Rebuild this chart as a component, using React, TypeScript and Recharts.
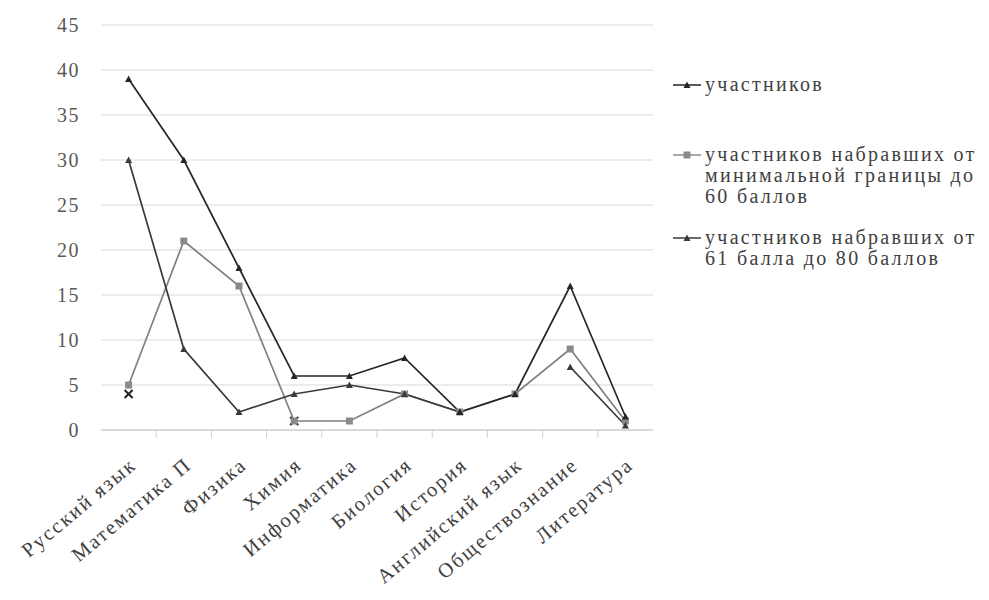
import { LineChart, Line, XAxis, YAxis, CartesianGrid } from 'recharts';

const subjects = [
  'Русский язык',
  'Математика П',
  'Физика',
  'Химия',
  'Информатика',
  'Биология',
  'История',
  'Английский язык',
  'Обществознание',
  'Литература',
];

// участников
const totalParticipants = [39, 30, 18, 6, 6, 8, 2, 4, 16, 1.5];
// от минимальной границы до 60 баллов
const upTo60 = [5, 21, 16, 1, 1, 4, 2, 4, 9, 1];
// от 61 до 80 баллов
const from61to80 = [30, 9, 2, 4, 5, 4, 2, null, 7, 0.5];
// крестики без подписи в легенде
const from81 = [4, null, null, 1, null, null, null, null, null, null];

const yTicks = [0, 5, 10, 15, 20, 25, 30, 35, 40, 45];

// legend text, line by line as in the original
const legendLines = [
  ['участников'],
  ['участников набравших от', 'минимальной границы до', '60 баллов'],
  ['участников набравших от', '61 балла до 80 баллов'],
];

const data = subjects.map((subject, i) => ({
  subject,
  total: totalParticipants[i],
  upTo60: upTo60[i],
  from61to80: from61to80[i],
  from81: from81[i],
}));

const CHART_W = 970;
const CHART_H = 584;
const MARGIN = { top: 17, right: 325, bottom: 22, left: 0 };
const Y_AXIS_W = 93;
const X_AXIS_H = 140;
const BAND = (CHART_W - MARGIN.left - MARGIN.right - Y_AXIS_W) / subjects.length;

const FONT = '"Liberation Serif", "Times New Roman", serif';

const TriangleDot = (props: any) => {
  const { cx, cy, fill } = props;
  if (cx == null || cy == null) return null;
  return <polygon points={`${cx - 3.5},${cy + 3} ${cx + 3.5},${cy + 3} ${cx},${cy - 3.5}`} fill={fill} />;
};

const SquareDot = (props: any) => {
  const { cx, cy, fill } = props;
  if (cx == null || cy == null) return null;
  return <rect x={cx - 3.5} y={cy - 3.5} width={7} height={7} fill={fill} />;
};

const CrossDot = (props: any) => {
  const { cx, cy } = props;
  if (cx == null || cy == null) return null;
  return (
    <g stroke="#222" strokeWidth={2}>
      <line x1={cx - 4} y1={cy - 4} x2={cx + 4} y2={cy + 4} />
      <line x1={cx - 4} y1={cy + 4} x2={cx + 4} y2={cy - 4} />
    </g>
  );
};

const SubjectTick = (props: any) => {
  const { x, y, payload, index } = props;
  const tx = x + 9;
  const ty = y + 37;
  return (
    <g>
      {index < subjects.length - 1 && (
        <line x1={x + BAND / 2} x2={x + BAND / 2} y1={y} y2={y + 8} stroke="#cfcfcf" />
      )}
      <text
        x={tx}
        y={ty}
        transform={`rotate(-40 ${tx} ${ty})`}
        textAnchor="end"
        fill="#404040"
        fontSize={20.5}
        fontFamily={FONT}
        letterSpacing={2}
      >
        {payload.value}
      </text>
    </g>
  );
};

const legendTops = [66, 136, 219];
const legendStyle = [
  { color: '#262626', shape: 'triangle' },
  { color: '#8a8a8a', shape: 'square' },
  { color: '#3a3a3a', shape: 'triangle' },
];

const LegendMarker = ({ color, shape }: { color: string; shape: string }) => (
  <svg width={30} height={12} style={{ flex: 'none', marginTop: 5 }}>
    <line x1={0} x2={28} y1={6} y2={6} stroke={color} strokeWidth={1.5} />
    {shape === 'square' ? (
      <rect x={10.5} y={2.5} width={7} height={7} fill={color} />
    ) : (
      <polygon points="10.5,9 17.5,9 14,2.5" fill={color} />
    )}
  </svg>
);

function ChartLegend() {
  return (
    <>
      {legendLines.map((lines, i) => (
        <div
          key={i}
          style={{
            position: 'absolute',
            left: 665,
            top: legendTops[i],
            display: 'flex',
            alignItems: 'flex-start',
            fontFamily: FONT,
            fontSize: 20,
            lineHeight: '21px',
            color: '#404040',
            letterSpacing: 2.3,
            whiteSpace: 'nowrap',
          }}
        >
          <LegendMarker color={legendStyle[i].color} shape={legendStyle[i].shape} />
          <div style={{ marginLeft: 2 }}>
            {lines.map((line) => (
              <div key={line}>{line}</div>
            ))}
          </div>
        </div>
      ))}
    </>
  );
}

export default function App() {
  return (
    <div style={{ position: 'relative', width: CHART_W, height: CHART_H, background: '#fff' }}>
      <LineChart width={CHART_W} height={CHART_H} data={data} margin={MARGIN}>
        <CartesianGrid horizontal vertical={false} stroke="#d9d9d9" />
        <XAxis
          dataKey="subject"
          height={X_AXIS_H}
          interval={0}
          padding={{ left: BAND / 2, right: BAND / 2 }}
          axisLine={{ stroke: '#c8c8c8' }}
          tickLine={false}
          tickSize={0}
          tickMargin={0}
          tick={<SubjectTick />}
        />
        <YAxis
          width={Y_AXIS_W}
          domain={[0, 45]}
          ticks={yTicks}
          axisLine={false}
          tickLine={false}
          tickSize={0}
          tickMargin={21}
          tick={{ fill: '#595959', fontSize: 20, fontFamily: FONT, letterSpacing: 1.5 }}
        />
        <Line
          dataKey="from81"
          name="участников набравших от 81 до 100 баллов"
          legendType="none"
          stroke="#222"
          strokeWidth={1.5}
          dot={<CrossDot />}
          isAnimationActive={false}
        />
        <Line
          dataKey="upTo60"
          name={legendLines[1].join(' ')}
          stroke="#808080"
          strokeWidth={1.7}
          dot={<SquareDot fill="#8a8a8a" />}
          isAnimationActive={false}
        />
        <Line
          dataKey="from61to80"
          name={legendLines[2].join(' ')}
          stroke="#3a3a3a"
          strokeWidth={1.7}
          dot={<TriangleDot fill="#3a3a3a" />}
          isAnimationActive={false}
        />
        <Line
          dataKey="total"
          name={legendLines[0].join(' ')}
          stroke="#262626"
          strokeWidth={1.7}
          dot={<TriangleDot fill="#262626" />}
          isAnimationActive={false}
        />
      </LineChart>
      <ChartLegend />
    </div>
  );
}
